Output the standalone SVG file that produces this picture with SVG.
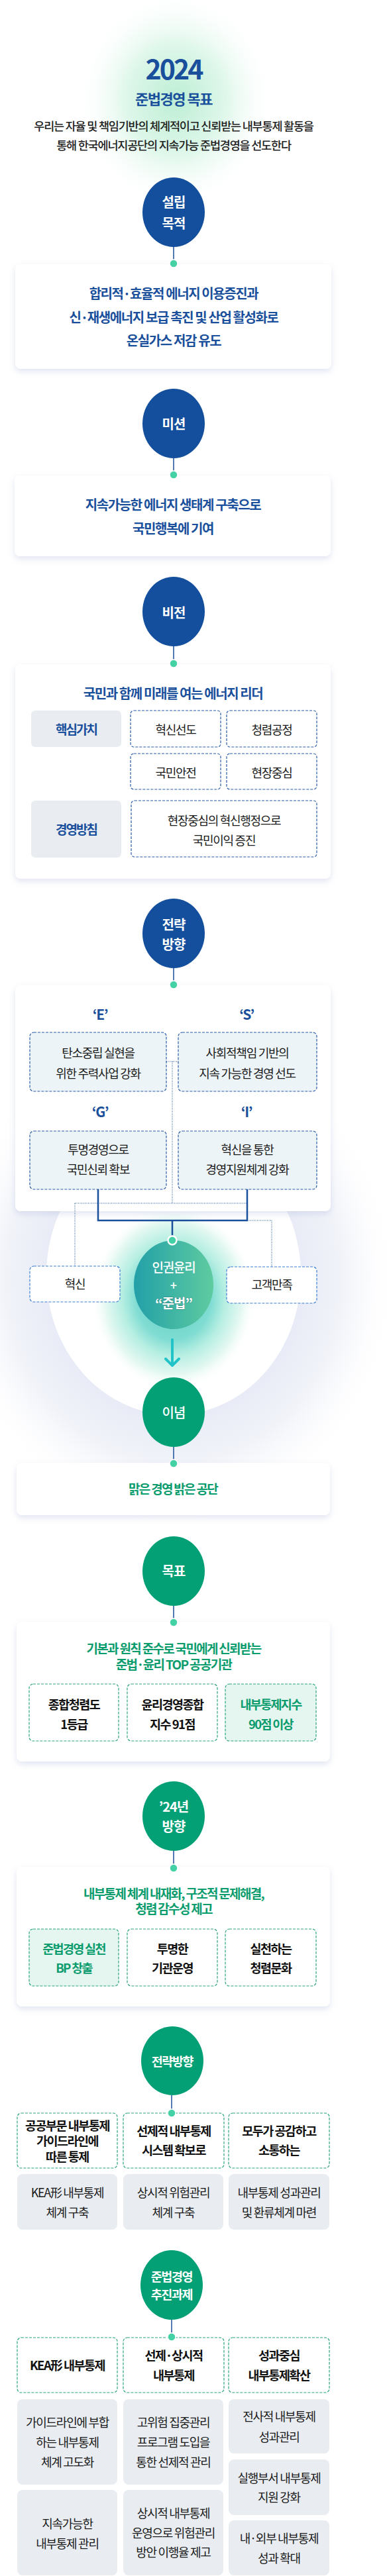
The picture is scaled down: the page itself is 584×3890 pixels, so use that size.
<svg xmlns="http://www.w3.org/2000/svg" width="584" height="3890" viewBox="0 0 584 3890">
<defs>
<style>
text{font-family:"Noto Sans CJK KR","Noto Sans",sans-serif;text-anchor:middle}
.cw{fill:#fff;font-weight:700;font-size:20px;letter-spacing:-1px}
.cs{fill:#fff;font-weight:700;font-size:18.5px;letter-spacing:-1.4px}
.bt{fill:#1a4f9c;font-weight:700;font-size:20px;letter-spacing:-1.4px}
.gt{fill:#0b9c6e;font-weight:700;font-size:19px;letter-spacing:-1.7px}
.rt{fill:#1a1a1a;font-size:18px;letter-spacing:-1.3px}
.kt{fill:#111;font-weight:700;font-size:18.5px;letter-spacing:-1.5px}
.lb{fill:#1a4f9c;font-weight:700;font-size:19px;letter-spacing:-2px}
.card{fill:#fff;filter:url(#sh)}
.bd{fill:#fff;stroke:#2a5ca8;stroke-width:1.2;stroke-dasharray:4 2}
.bdl{fill:#edf4f8;stroke:#2a5ca8;stroke-width:1.2;stroke-dasharray:4 2}
.bdc{fill:#fff;stroke:#3b7fd4;stroke-width:1.2;stroke-dasharray:4 2}
.gd{fill:#fff;stroke:#2aa57b;stroke-width:1.2;stroke-dasharray:4 2}
.gdl{fill:#e5f5ef;stroke:#2aa57b;stroke-width:1.2;stroke-dasharray:4 2}
.gb{fill:#e9edf2}
.blue{fill:#134f9d}
.green{fill:#03a075}
.ln{stroke:#1b4f9c;stroke-width:1.5;fill:none}
.dot{fill:#44d1a6;stroke:#fff;stroke-width:1.5}
</style>
<filter id="sh" x="-10%" y="-15%" width="120%" height="140%"><feDropShadow dx="0" dy="4" stdDeviation="5" flood-color="#9aa8d0" flood-opacity="0.3"/></filter>
<radialGradient id="hg"><stop offset="0" stop-color="#bdeed4"/><stop offset="0.5" stop-color="#def7ea"/><stop offset="1" stop-color="#ffffff" stop-opacity="0"/></radialGradient>
<radialGradient id="lav"><stop offset="0.5" stop-color="#e6e9f5"/><stop offset="0.75" stop-color="#f1f3f9"/><stop offset="1" stop-color="#ffffff" stop-opacity="0"/></radialGradient>
<radialGradient id="tg"><stop offset="0" stop-color="#5fd0c6"/><stop offset="0.45" stop-color="#7fdcd2"/><stop offset="0.62" stop-color="#b6eee2"/><stop offset="0.82" stop-color="#e3f8f1"/><stop offset="1" stop-color="#ffffff" stop-opacity="0"/></radialGradient>
<linearGradient id="cg" x1="0" x2="1" y1="0" y2="0"><stop offset="0" stop-color="#23a0a8"/><stop offset="1" stop-color="#5ecba0"/></linearGradient>
</defs>
<rect width="584" height="3890" fill="#fff"/>

<g id="header">
<ellipse cx="265" cy="150" rx="150" ry="165" fill="url(#hg)"/>
<text x="262" y="120" style="fill:#1a4f9c;font-weight:700;font-size:41px;letter-spacing:-3px">2024</text>
<text x="262" y="158" style="fill:#1a4f9c;font-weight:700;font-size:22px;letter-spacing:-1.5px">준법경영 목표</text>
<text x="262" y="197" style="fill:#222;font-weight:500;font-size:17.5px;letter-spacing:-1.2px">우리는 자율 및 책임기반의 체계적이고 신뢰받는 내부통제 활동을</text>
<text x="262" y="226" style="fill:#222;font-weight:500;font-size:17.5px;letter-spacing:-1.2px">통해 한국에너지공단의 지속가능 준법경영을 선도한다</text>
</g>

<g id="bgdecor">
<ellipse cx="262" cy="1930" rx="340" ry="370" fill="url(#lav)"/>
<ellipse cx="262" cy="1925" rx="192" ry="212" fill="#fff"/>
<ellipse cx="262" cy="1960" rx="125" ry="140" fill="url(#tg)"/>
</g>

<g id="n-purpose">
<ellipse class="blue" cx="262" cy="320.5" rx="47" ry="52.5"/>
<text class="cw" x="262" y="313">설립</text>
<text class="cw" x="262" y="345">목적</text>
</g>
<g id="c-purpose">
<rect class="card" x="23" y="399" width="477" height="158" rx="8"/>
<text class="bt" x="262" y="451">합리적·효율적 에너지 이용증진과</text>
<text class="bt" x="262" y="487">신·재생에너지 보급 촉진 및 산업 활성화로</text>
<text class="bt" x="262" y="522">온실가스 저감 유도</text>
</g>

<g id="n-mission">
<ellipse class="blue" cx="262" cy="639.5" rx="47" ry="52.5"/>
<text class="cw" x="262" y="648">미션</text>
</g>
<g id="c-mission">
<rect class="card" x="22" y="718" width="477" height="122" rx="8"/>
<text class="bt" x="261" y="770">지속가능한 에너지 생태계 구축으로</text>
<text class="bt" x="261" y="806">국민행복에 기여</text>
</g>

<g id="n-vision">
<ellipse class="blue" cx="262" cy="923.5" rx="47" ry="52.5"/>
<text class="cw" x="262" y="933">비전</text>
</g>
<g id="c-vision">
<rect class="card" x="23" y="1003" width="476" height="324" rx="8"/>
<text class="bt" x="261" y="1055">국민과 함께 미래를 여는 에너지 리더</text>
<rect class="gb" x="47" y="1073" width="136" height="55" rx="6"/>
<text class="lb" x="115" y="1109">핵심가치</text>
<rect class="bd" x="197" y="1073" width="136" height="55" rx="5"/>
<text class="rt" x="265" y="1109">혁신선도</text>
<rect class="bd" x="342" y="1073" width="136" height="55" rx="5"/>
<text class="rt" x="410" y="1109">청렴공정</text>
<rect class="bd" x="197" y="1138" width="136" height="54" rx="5"/>
<text class="rt" x="265" y="1174">국민안전</text>
<rect class="bd" x="342" y="1138" width="136" height="54" rx="5"/>
<text class="rt" x="410" y="1174">현장중심</text>
<rect class="gb" x="47" y="1209" width="136" height="86" rx="6"/>
<text class="lb" x="115" y="1260">경영방침</text>
<rect class="bd" x="198" y="1209" width="280" height="85" rx="5"/>
<text class="rt" x="338" y="1246">현장중심의 혁신행정으로</text>
<text class="rt" x="338" y="1276">국민이익 증진</text>
</g>

<g id="n-strategy">
<ellipse class="blue" cx="262" cy="1409.5" rx="47" ry="52.5"/>
<text class="cw" x="262" y="1404">전략</text>
<text class="cw" x="262" y="1434">방향</text>
</g>
<g id="c-strategy">
<rect class="card" x="23" y="1488" width="476" height="341" rx="8"/>
<text class="bt" x="151" y="1540" style="font-size:21px">‘E’</text>
<text class="bt" x="372" y="1540" style="font-size:21px">‘S’</text>
<rect class="bdl" x="45" y="1559" width="206" height="89" rx="6"/>
<text class="rt" x="148" y="1597">탄소중립 실현을</text>
<text class="rt" x="148" y="1628">위한 주력사업 강화</text>
<rect class="bdl" x="269" y="1559" width="209" height="89" rx="6"/>
<text class="rt" x="373" y="1597">사회적책임 기반의</text>
<text class="rt" x="373" y="1628">지속 가능한 경영 선도</text>
<text class="bt" x="151" y="1687" style="font-size:21px">‘G’</text>
<text class="bt" x="372" y="1687" style="font-size:21px">‘I’</text>
<rect class="bdl" x="45" y="1708" width="206" height="88" rx="6"/>
<text class="rt" x="148" y="1743">투명경영으로</text>
<text class="rt" x="148" y="1773">국민신뢰 확보</text>
<rect class="bdl" x="269" y="1708" width="209" height="88" rx="6"/>
<text class="rt" x="373" y="1743">혁신을 통한</text>
<text class="rt" x="373" y="1773">경영지원체계 강화</text>
</g>

<g id="connectors">
<path class="ln" d="M262 373V392M262 692V711M262 976V996M262 1462V1481M262 2185V2204M262 2425V2444M262 2795V2815M259 3164V3185M259 3503V3523"/>
<path d="M148 1796V1843H373V1796M260 1843V1866" fill="none" stroke="#1a4f9c" stroke-width="2.5"/>
<path d="M251 1603H269M260 1603V1817M113 1817H372M113 1817V1912M373 1843H410V1913" fill="none" stroke="#1a4f9c" stroke-width="1" stroke-dasharray="1 1.5"/>
<path d="M260 2023V2060M250 2052L260 2062L270 2052" fill="none" stroke="#20c4c8" stroke-width="4" stroke-linecap="round" stroke-linejoin="round"/>
</g>

<g id="n-innovation">
<rect class="bdc" x="45" y="1912" width="136" height="54" rx="6"/>
<text class="rt" x="113" y="1946">혁신</text>
</g>
<g id="n-customer">
<rect class="bdc" x="342" y="1913" width="136" height="55" rx="6"/>
<text class="rt" x="410" y="1947">고객만족</text>
</g>
<g id="n-core">
<ellipse cx="262" cy="1940" rx="60" ry="67" fill="url(#cg)"/>
<circle cx="260" cy="1873" r="6.5" fill="#44d1a6" stroke="#fff" stroke-width="2.5"/>
<text x="262" y="1921" style="fill:#fff;font-size:19px;font-weight:500;letter-spacing:-1.2px">인권윤리</text>
<text x="262" y="1948" style="fill:#fff;font-size:18px;font-weight:500">+</text>
<text x="262" y="1976" style="fill:#fff;font-size:20px;font-weight:700;letter-spacing:-1px;stroke:#2b7f7a;stroke-width:0.8;paint-order:stroke">“준법”</text>
</g>

<g id="n-ideology">
<ellipse class="green" cx="262" cy="2132.5" rx="47" ry="52.5"/>
<text class="cw" x="262" y="2141" style="font-weight:500">이념</text>
</g>
<g id="c-ideology">
<rect class="card" x="25" y="2209" width="473" height="79" rx="8"/>
<text class="gt" x="261" y="2256">맑은 경영 밝은 공단</text>
</g>

<g id="n-goal">
<ellipse class="green" cx="262" cy="2372.5" rx="47" ry="52.5"/>
<text class="cw" x="262" y="2380">목표</text>
</g>
<g id="c-goal">
<rect class="card" x="25" y="2449" width="473" height="211" rx="8"/>
<text class="gt" x="262" y="2497">기본과 원칙 준수로 국민에게 신뢰받는</text>
<text class="gt" x="262" y="2521">준법·윤리 TOP 공공기관</text>
<rect class="gd" x="44" y="2543" width="135" height="86" rx="6"/>
<text class="kt" x="111.5" y="2581">종합청렴도</text>
<text class="kt" x="111.5" y="2611">1등급</text>
<rect class="gd" x="192" y="2543" width="136" height="86" rx="6"/>
<text class="kt" x="260" y="2581">윤리경영종합</text>
<text class="kt" x="260" y="2611">지수 91점</text>
<rect class="gdl" x="340" y="2543" width="137" height="86" rx="6"/>
<text class="gt" x="408.5" y="2581" style="font-size:18.5px">내부통제지수</text>
<text class="gt" x="408.5" y="2611" style="font-size:18.5px">90점 이상</text>
</g>

<g id="n-direction24">
<ellipse class="green" cx="262" cy="2742.5" rx="47" ry="52.5"/>
<text class="cw" x="262" y="2736">’24년</text>
<text class="cw" x="262" y="2766">방향</text>
</g>
<g id="c-direction24">
<rect class="card" x="25" y="2819" width="473" height="211" rx="8"/>
<text class="gt" x="262" y="2867">내부통제 체계 내재화, 구조적 문제해결,</text>
<text class="gt" x="262" y="2890">청렴 감수성 제고</text>
<rect class="gdl" x="44" y="2913" width="135" height="86" rx="6"/>
<text class="gt" x="111.5" y="2950" style="font-size:18.5px">준법경영 실천</text>
<text class="gt" x="111.5" y="2979" style="font-size:18.5px">BP 창출</text>
<rect class="gd" x="192" y="2913" width="136" height="86" rx="6"/>
<text class="kt" x="260" y="2950">투명한</text>
<text class="kt" x="260" y="2979">기관운영</text>
<rect class="gd" x="340" y="2913" width="137" height="86" rx="6"/>
<text class="kt" x="408.5" y="2950">실천하는</text>
<text class="kt" x="408.5" y="2979">청렴문화</text>
</g>

<g id="n-strategy2">
<ellipse class="green" cx="260" cy="3112" rx="47" ry="52"/>
<text class="cs" x="260" y="3120">전략방향</text>
</g>
<g id="c-strategy2">
<rect class="gd" x="26" y="3191" width="151" height="83" rx="6"/>
<text class="kt" x="101.5" y="3217">공공부문 내부통제</text>
<text class="kt" x="101.5" y="3240">가이드라인에</text>
<text class="kt" x="101.5" y="3264">따른 통제</text>
<rect class="gd" x="186" y="3191" width="152" height="83" rx="6"/>
<text class="kt" x="262" y="3225">선제적 내부통제</text>
<text class="kt" x="262" y="3254">시스템 확보로</text>
<rect class="gd" x="345" y="3191" width="152" height="83" rx="6"/>
<text class="kt" x="421" y="3225">모두가 공감하고</text>
<text class="kt" x="421" y="3254">소통하는</text>
<rect class="gb" x="26" y="3283" width="151" height="84" rx="8"/>
<text class="rt" x="101.5" y="3318">KEA形 내부통제</text>
<text class="rt" x="101.5" y="3348">체계 구축</text>
<rect class="gb" x="186" y="3283" width="151" height="84" rx="8"/>
<text class="rt" x="261.5" y="3318">상시적 위험관리</text>
<text class="rt" x="261.5" y="3348">체계 구축</text>
<rect class="gb" x="345" y="3283" width="152" height="84" rx="8"/>
<text class="rt" x="421" y="3318">내부통제 성과관리</text>
<text class="rt" x="421" y="3348">및 환류체계 마련</text>
</g>

<g id="n-tasks">
<ellipse class="green" cx="259" cy="3450.5" rx="47" ry="52.5"/>
<text class="cs" x="259" y="3445">준법경영</text>
<text class="cs" x="259" y="3472">추진과제</text>
</g>
<g id="c-tasks">
<rect class="gd" x="26" y="3530" width="151" height="83" rx="6"/>
<text class="kt" x="101.5" y="3579">KEA形 내부통제</text>
<rect class="gd" x="186" y="3530" width="152" height="83" rx="6"/>
<text class="kt" x="262" y="3564">선제·상시적</text>
<text class="kt" x="262" y="3594">내부통제</text>
<rect class="gd" x="345" y="3530" width="152" height="83" rx="6"/>
<text class="kt" x="421" y="3564">성과중심</text>
<text class="kt" x="421" y="3594">내부통제확산</text>
<rect class="gb" x="26" y="3623" width="151" height="129" rx="8"/>
<text class="rt" x="101.5" y="3665">가이드라인에 부합</text>
<text class="rt" x="101.5" y="3695">하는 내부통제</text>
<text class="rt" x="101.5" y="3725">체계 고도화</text>
<rect class="gb" x="26" y="3760" width="151" height="129" rx="8"/>
<text class="rt" x="101.5" y="3818">지속가능한</text>
<text class="rt" x="101.5" y="3848">내부통제 관리</text>
<rect class="gb" x="186" y="3623" width="151" height="129" rx="8"/>
<text class="rt" x="261.5" y="3665">고위험 집중관리</text>
<text class="rt" x="261.5" y="3695">프로그램 도입을</text>
<text class="rt" x="261.5" y="3725">통한 선제적 관리</text>
<rect class="gb" x="186" y="3760" width="151" height="129" rx="8"/>
<text class="rt" x="261.5" y="3802">상시적 내부통제</text>
<text class="rt" x="261.5" y="3832">운영으로 위험관리</text>
<text class="rt" x="261.5" y="3861">방안 이행율 제고</text>
<rect class="gb" x="345" y="3623" width="152" height="82" rx="8"/>
<text class="rt" x="421" y="3656">전사적 내부통제</text>
<text class="rt" x="421" y="3687">성과관리</text>
<rect class="gb" x="345" y="3714" width="152" height="84" rx="8"/>
<text class="rt" x="421" y="3749">실행부서 내부통제</text>
<text class="rt" x="421" y="3778">지원 강화</text>
<rect class="gb" x="345" y="3806" width="152" height="83" rx="8"/>
<text class="rt" x="421" y="3840">내·외부 내부통제</text>
<text class="rt" x="421" y="3870">성과 확대</text>
</g>

<g id="dots">
<circle class="dot" cx="262" cy="398" r="6"/>
<circle class="dot" cx="262" cy="717" r="6"/>
<circle class="dot" cx="262" cy="1002" r="6"/>
<circle class="dot" cx="262" cy="1487" r="6"/>
<circle class="dot" cx="262" cy="2210" r="6"/>
<circle class="dot" cx="262" cy="2450" r="6"/>
<circle class="dot" cx="262" cy="2821" r="6"/>
<circle class="dot" cx="259" cy="3191" r="6"/>
<circle class="dot" cx="259" cy="3529" r="6"/>
</g>
</svg>
